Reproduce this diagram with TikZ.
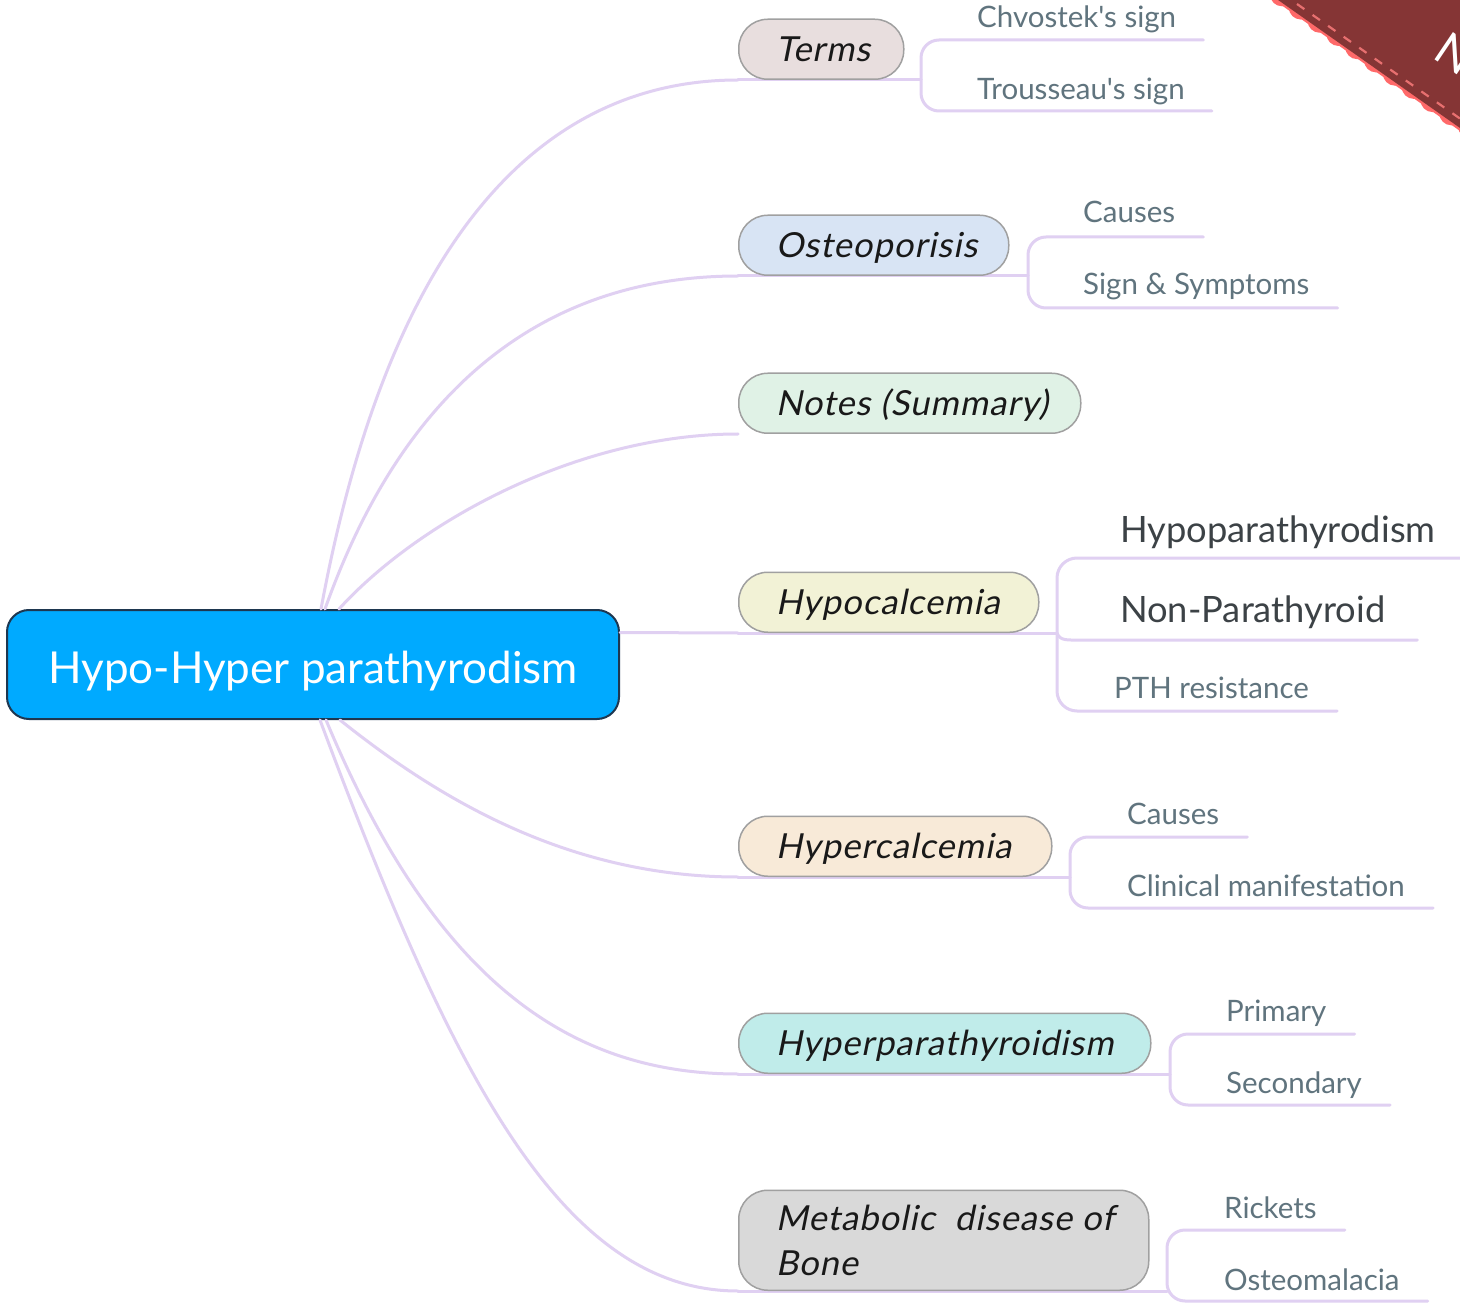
\documentclass[tikz,border=0pt]{standalone}
\usepackage{fontspec}
\setmainfont{Lato}[Ligatures=TeXOff]
\newfontfamily\topicfont{Lato}[FakeSlant=0.2, LetterSpace=3, Ligatures=TeXOff]
\usetikzlibrary{calc}
\definecolor{lav}{RGB}{224,208,242}
\definecolor{nodegray}{RGB}{160,160,160}
\definecolor{subc}{RGB}{96,116,126}
\definecolor{bigc}{RGB}{60,66,70}
\definecolor{rootblue}{RGB}{0,170,255}
\definecolor{rootedge}{RGB}{30,55,80}
\definecolor{fterms}{RGB}{232,222,222}
\definecolor{fosteo}{RGB}{216,228,244}
\definecolor{fnotes}{RGB}{224,242,230}
\definecolor{fhypo}{RGB}{242,242,214}
\definecolor{fhyper}{RGB}{248,234,216}
\definecolor{fhpt}{RGB}{192,236,234}
\definecolor{fmeta}{RGB}{217,217,217}
\definecolor{ribred}{RGB}{133,53,53}
\definecolor{ribpink}{RGB}{255,105,105}
\definecolor{ribdash}{RGB}{232,112,112}
\begin{document}
\begin{tikzpicture}[x=1pt,y=-1pt,
  conn/.style={draw=lav, line width=3pt, line cap=round},
  topicbase/.style={draw=nodegray, line width=1.5pt, rounded corners=29pt,
    inner xsep=37pt, inner ysep=0pt, anchor=south west,
    font=\fontsize{34.5}{45}\topicfont, text=black!90},
  topic/.style={topicbase, minimum height=60pt, text height=25pt, text depth=0pt},
  sub/.style={anchor=base west, inner sep=0pt, text=subc, font=\fontsize{29.5}{34}\selectfont},
  bigsub/.style={anchor=base west, inner sep=0pt, text=bigc, font=\fontsize{36.3}{42}\selectfont},
]
\useasboundingbox (0,0) rectangle (1460,1305);
\clip (0,0) rectangle (1460,1305);
\fill[white] (0,0) rectangle (1460,1305);

% ---------- ribbon in the corner ----------
\fill[ribpink] (1267,-5) -- (1470,-5) -- (1470,138) -- cycle;
\foreach \s in {-23,0,23,...,253} {
  \fill[ribpink] (1282+0.818*\s, -5.7+0.575*\s) circle (12);
}
\fill[ribred] (1271,-5) -- (1470,-5) -- (1470,135) -- cycle;
\draw[ribdash, dash pattern=on 9pt off 10pt, line width=2.2pt] (1297,4) -- (1462,120);
\node[text=white, font=\fontsize{46}{50}\selectfont, rotate=-34, anchor=base west, inner sep=0pt] (ribtext) at (1431,57) {N};

% ---------- nodes ----------
\node[draw=rootedge, line width=2pt, fill=rootblue, rounded corners=22pt,
  minimum width=612pt, minimum height=109pt, inner sep=0pt,
  text height=37pt, text depth=0pt,
  text=white, font=\fontsize{44}{50}\selectfont] (root) at (313,664.5) {Hypo-Hyper parathyrodism};

% connectors from the root (drawn under the topic nodes)
\draw[conn] ($(root.north)+(8,0)$) .. controls (395,210) and (560,80) .. (738,80) coordinate (terms-end);
\draw[conn] ($(root.north)+(12,0)$) .. controls (410,370) and (560,276) .. (738,276) coordinate (osteo-end);
\draw[conn] ($(root.north)+(26,0)$) .. controls (420,520) and (580,434) .. (738,434) coordinate (notes-end);
\draw[conn] ($(root.east)+(0,-32)$) -- (738,633) coordinate (hypo-end);
\draw[conn] ($(root.south)+(27,0)$) .. controls (440,800) and (570,877) .. (738,877) coordinate (hyper-end);
\draw[conn] ($(root.south)+(13,0)$) .. controls (430,969) and (560,1074) .. (738,1074) coordinate (hpt-end);
\draw[conn] ($(root.south)+(7,0)$) .. controls (450,1069) and (560,1291) .. (738,1291) coordinate (meta-end);

% split points of the sub-branches
\coordinate (ts) at (921,80);
\coordinate (os) at (1028,276);
\coordinate (hs) at (1057,633);
\coordinate (rs) at (1070,877);
\coordinate (ps) at (1170,1074);
\coordinate (ms) at (1167,1291);

\draw[conn] (terms-end) -- (ts);
\draw[conn] (osteo-end) -- (os);
\draw[conn] (hypo-end) -- (hs);
\draw[conn] (hyper-end) -- (rs);
\draw[conn] (hpt-end) -- (ps);
\draw[conn] (meta-end) -- (ms);

\node[topic, fill=fterms] (terms) at (terms-end) {\makebox[91pt][l]{Terms}};
\node[topic, fill=fosteo] (osteo) at (osteo-end) {\makebox[196pt][l]{Osteoporisis}};
\node[topic, fill=fnotes] (notes) at (notes-end) {\makebox[268pt][l]{Notes (Summary)}};
\node[topic, fill=fhypo] (hypo) at (hypo-end) {\makebox[226pt][l]{Hypocalcemia}};
\node[topic, fill=fhyper] (hyper) at (hyper-end) {\makebox[239pt][l]{Hypercalcemia}};
\node[topic, fill=fhpt] (hpt) at (hpt-end) {\makebox[338pt][l]{Hyperparathyroidism}};
\node[topicbase, fill=fmeta, minimum height=100pt, align=left] (meta) at (meta-end)
  {\makebox[336pt][l]{Metabolic~~disease of}\\Bone};

% ---------- sub-topics ----------
\node[sub] (chv) at (977,28) {Chvostek's sign};
\node[sub] (trs) at (977,100) {Trousseau's sign};
\node[sub] (oca) at (1083,223) {Causes};
\node[sub] (oss) at (1083,295) {Sign \& Symptoms};
\node[bigsub] (hpa) at (1120,542) {Hypoparathyrodism};
\node[bigsub] (npt) at (1120,622) {Non-Parathyroid};
\node[sub] (pth) at (1114,698) {PTH resistance};
\node[sub] (rca) at (1127,824) {Causes};
\node[sub] (rcm) at (1127,896) {Clinical manifestation};
\node[sub] (pri) at (1226,1021) {Primary};
\node[sub] (sec) at (1226,1093) {Secondary};
\node[sub] (ric) at (1224,1218) {Rickets};
\node[sub] (osm) at (1224,1290) {Osteomalacia};

\draw[conn, rounded corners=18pt] ($(chv.base east)+(27,12)$) -- ($(ts |- chv.base)+(0,12)$) -- ($(ts |- trs.base)+(0,11)$) -- ($(trs.base east)+(27,11)$);
\draw[conn, rounded corners=18pt] ($(oca.base east)+(28,14)$) -- ($(os |- oca.base)+(0,14)$) -- ($(os |- oss.base)+(0,13)$) -- ($(oss.base east)+(28,13)$);
\draw[conn, rounded corners=20pt] ($(hpa.base east)+(28,16)$) -- ($(hs |- hpa.base)+(0,16)$) -- ($(hs |- pth.base)+(0,13)$) -- ($(pth.base east)+(28,13)$);
\draw[conn] (hs) .. controls +(3,8) and +(-14,0) .. ($(hs |- npt.base)+(24,18)$) -- ($(npt.base east)+(32,18)$);
\draw[conn, rounded corners=18pt] ($(rca.base east)+(28,13)$) -- ($(rs |- rca.base)+(0,13)$) -- ($(rs |- rcm.base)+(0,12)$) -- ($(rcm.base east)+(28,12)$);
\draw[conn, rounded corners=18pt] ($(pri.base east)+(28,13)$) -- ($(ps |- pri.base)+(0,13)$) -- ($(ps |- sec.base)+(0,12)$) -- ($(sec.base east)+(28,12)$);
\draw[conn, rounded corners=18pt] ($(ric.base east)+(28,12)$) -- ($(ms |- ric.base)+(0,12)$) -- ($(ms |- osm.base)+(0,11)$) -- ($(osm.base east)+(28,11)$);
\end{tikzpicture}
\end{document}
